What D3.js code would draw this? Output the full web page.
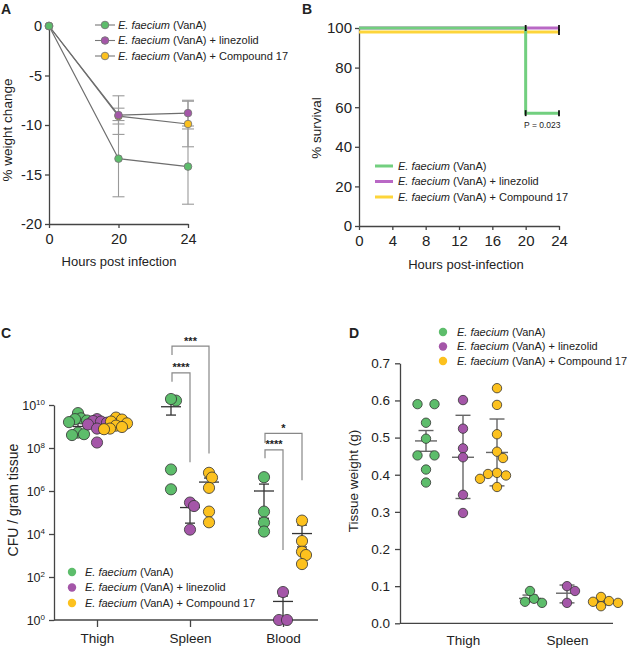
<!DOCTYPE html>
<html><head><meta charset="utf-8">
<script src="https://cdn.jsdelivr.net/npm/d3@7"></script>
<style>
body{margin:0;background:#fff}
text{font-family:Arial,"Liberation Sans",sans-serif;fill:#222}
</style>
</head><body>
<svg id="chart" width="627" height="648"></svg>
<script>
// ---------------- DATA ----------------
const groupSpecies = "E. faecium";
const groupLabels = [" (VanA)", " (VanA) + linezolid", " (VanA) + Compound 17"];

// Panel A: % weight change (mean, SD)
const hoursA = ["0", "20", "24"];
const weightGreen = [0, -13.4, -14.2];
const weightPurple = [0, -9.0, -8.8];
const weightYellow = [0, -9.1, -9.9];
const sdGreen = [0, 3.85, 3.8];
const sdPurple = [0, 1.95, 1.3];
const sdYellow = [0, 0.8, 2.3];
const yTicksA = [0, -5, -10, -15, -20];

// Panel B: survival
const survTimesGreen = [0, 20, 24];
const survGreen = [100, 57, 57];
const survTimesPurple = [0, 24];
const survPurple = [100, 100];
const survTimesYellow = [0, 24];
const survYellow = [98, 98];
const censorGreen = [[20, 57], [24, 57]];
const censorPurple = [[20, 100], [24, 100]];
const censorYellow = [[24, 98]];
const xTicksB = [0, 4, 8, 12, 16, 20, 24];
const yTicksB = [0, 20, 40, 60, 80, 100];
const pValueText = "P = 0.023";

// Panel C: CFU / gram tissue
const tissuesC = ["Thigh", "Spleen", "Blood"];
const cfuGreen = {
  Thigh: [4.2e9, 2.4e9, 2.2e9, 1.9e9, 1.6e9, 5.2e8, 4.4e8, 4.0e8],
  Spleen: [1.6e10, 1.9e10, 1.0e7, 1.2e6],
  Blood: [4.4e6, 1.1e5, 3.4e4, 1.3e4]
};
const cfuPurple = {
  Thigh: [2.2e9, 1.8e9, 1.7e9, 1.5e9, 1.25e9, 8e8, 1.8e8],
  Spleen: [2.9e5, 2.0e5, 1.6e4],
  Blood: [20, 1, 1]
};
const cfuYellow = {
  Thigh: [2.6e9, 2.1e9, 1.7e9, 1.4e9, 1.1e9, 9.5e8, 8e8, 7.5e8],
  Spleen: [7e6, 4.2e6, 1.4e6, 1.1e5, 3.5e4],
  Blood: [4.2e4, 4.7e3, 1.5e3, 1.05e3, 4e2]
};
// mean, low, high
const cfuStatsGreen = {Thigh: [1.5e9, 1.0e9, 2.1e9], Spleen: [8.3e9, 3.4e9, 1.4e10], Blood: [1.0e6, 5.4e4, 2.1e6]};
const cfuStatsPurple = {Thigh: [1.4e9, 9e8, 1.9e9], Spleen: [1.7e5, 3.2e4, 3.1e5], Blood: [7.3, 1, 13]};
const cfuStatsYellow = {Thigh: [1.5e9, 1.1e9, 1.9e9], Spleen: [2.6e6, 1.2e6, 4.0e6], Blood: [1.05e4, 2.5e3, 2.6e4]};
const yTicksC = [1, 1e2, 1e4, 1e6, 1e8, 1e10];
const bracketsC = [
  {tissue: "Spleen", from: 0, to: 2, top: 5.5e12, leftEnd: 2.1e12, rightEnd: 5.6e7, label: "***"},
  {tissue: "Spleen", from: 0, to: 1, top: 3.1e11, leftEnd: 1.2e11, rightEnd: 2.2e7, label: "****"},
  {tissue: "Blood", from: 0, to: 2, top: 4.8e8, leftEnd: 1.7e8, rightEnd: 3.2e6, label: "*"},
  {tissue: "Blood", from: 0, to: 1, top: 8.1e7, leftEnd: 3.3e7, rightEnd: 1.8e3, label: "****"}
];

// Panel D: tissue weight (g)
const tissuesD = ["Thigh", "Spleen"];
const weightDGreen = {Thigh: [0.59, 0.59, 0.54, 0.497, 0.452, 0.452, 0.414, 0.379], Spleen: [0.055, 0.066, 0.087, 0.058]};
const weightDPurple = {Thigh: [0.601, 0.524, 0.471, 0.447, 0.346, 0.297], Spleen: [0.1, 0.087, 0.055]};
const weightDYellow = {Thigh: [0.633, 0.588, 0.509, 0.462, 0.445, 0.405, 0.398, 0.402, 0.389, 0.367], Spleen: [0.071, 0.058, 0.06, 0.055, 0.046]};
const statsDGreen = {Thigh: [0.491, 0.463, 0.519], Spleen: [0.067, 0.058, 0.076]};
const statsDPurple = {Thigh: [0.447, 0.336, 0.56], Spleen: [0.081, 0.055, 0.103]};
const statsDYellow = {Thigh: [0.46, 0.37, 0.55], Spleen: [0.058, 0.05, 0.066]};
const yTicksD = [0, 0.1, 0.2, 0.3, 0.4, 0.5, 0.6, 0.7];

// ---------------- STYLE ----------------
const markerColors = ["#5dbd6b", "#a456a8", "#fcc11e"];
const lineColors = ["#72cf7f", "#b968c5", "#fdd53a"];
const axisColor = "#444";

const svg = d3.select("#chart");

function styleAxis(g, fontSize) {
  g.attr("font-family", 'Arial,"Liberation Sans",sans-serif');
  g.selectAll(".domain").attr("stroke", axisColor).attr("stroke-width", 1.3);
  g.selectAll(".tick line").attr("stroke", axisColor).attr("stroke-width", 1.3);
  g.selectAll(".tick text").attr("font-size", fontSize).attr("fill", "#222");
}
function legendText(sel, x, y, i) {
  const t = sel.append("text").attr("x", x).attr("y", y).attr("font-size", 11).attr("dy", "0.35em");
  t.append("tspan").attr("font-style", "italic").text(groupSpecies);
  t.append("tspan").text(groupLabels[i]);
}
function title(x, y, s) {
  svg.append("text").attr("x", x).attr("y", y).attr("font-size", 14).attr("font-weight", "bold").text(s);
}
function yTitle(x, y, s, size) {
  svg.append("text").attr("transform", `translate(${x},${y}) rotate(-90)`)
    .attr("text-anchor", "middle").attr("font-size", size).text(s);
}
// scatter layout: identical values sit side by side, others avoid overlap greedily
function swarm(values, yScale, cx, minDist, rowSpacing) {
  const idx = values.map((v, i) => i).sort((a, b) => values[b] - values[a]);
  const rows = [];
  idx.forEach(i => {
    const y = yScale(values[i]);
    const last = rows[rows.length - 1];
    if (last && Math.abs(last.y - y) < 0.6) last.items.push(i);
    else rows.push({y, items: [i]});
  });
  const placed = [];
  const xs = new Array(values.length);
  let flip = 1;
  rows.forEach(row => {
    const n = row.items.length;
    if (n > 1) {
      row.items.forEach((i, k) => {
        const dx = (k - (n - 1) / 2) * rowSpacing;
        placed.push({x: dx, y: row.y});
        xs[i] = cx + dx;
      });
      return;
    }
    const i = row.items[0];
    const y = row.y;
    let x = 0;
    for (let k = 0; k < 200; k++) {
      const cands = k === 0 ? [0] : [flip * k, -flip * k];
      let found = null;
      for (const dx of cands) {
        if (placed.every(p => Math.hypot(p.x - dx, p.y - y) >= minDist)) { found = dx; break; }
      }
      if (found !== null) { x = found; break; }
    }
    if (x !== 0) flip = -Math.sign(x);
    placed.push({x, y});
    xs[i] = cx + x;
  });
  return xs;
}

// ---------------- PANEL A ----------------
(function () {
  const x = d3.scalePoint().domain(hoursA).range([49, 188]);
  const y = d3.scaleLinear().domain([-20, 0]).range([224, 26]);
  title(1, 14, "A");
  const gx = svg.append("g").attr("transform", "translate(0,224)")
    .call(d3.axisBottom(x).tickSize(4).tickPadding(6).tickSizeOuter(0));
  styleAxis(gx, 14.5);
  const gy = svg.append("g").attr("transform", "translate(49,0)")
    .call(d3.axisLeft(y).tickValues(yTicksA).tickSize(4).tickPadding(3).tickSizeOuter(0).tickFormat(d => String(d)));
  styleAxis(gy, 14.5);
  svg.append("text").attr("x", 119).attr("y", 266).attr("text-anchor", "middle").attr("font-size", 13).text("Hours post infection");
  yTitle(12, 130, "% weight change", 13.5);

  const series = [
    {vals: weightYellow, sd: sdYellow, c: 2},
    {vals: weightPurple, sd: sdPurple, c: 1},
    {vals: weightGreen, sd: sdGreen, c: 0}
  ];
  const eb = svg.append("g").attr("stroke", "#9a9a9a").attr("stroke-width", 1.1);
  series.forEach(s => {
    s.vals.forEach((v, i) => {
      if (s.sd[i] === 0) return;
      const cx = x(hoursA[i]);
      eb.append("line").attr("x1", cx).attr("x2", cx).attr("y1", y(v - s.sd[i])).attr("y2", y(v + s.sd[i]));
      [v - s.sd[i], v + s.sd[i]].forEach(e => eb.append("line").attr("x1", cx - 6).attr("x2", cx + 6).attr("y1", y(e)).attr("y2", y(e)));
    });
  });
  const line = d3.line().x((d, i) => x(hoursA[i])).y(d => y(d));
  series.forEach(s => {
    svg.append("path").attr("d", line(s.vals)).attr("fill", "none").attr("stroke", "#6e6e6e").attr("stroke-width", 1.2);
  });
  series.forEach(s => {
    svg.append("g").selectAll("circle").data(s.vals).join("circle")
      .attr("cx", (d, i) => x(hoursA[i])).attr("cy", d => y(d)).attr("r", 3.8)
      .attr("fill", markerColors[s.c]).attr("stroke", "#777").attr("stroke-width", 0.9);
  });
  [0, 1, 2].forEach(i => {
    const ly = 25 + i * 15.5;
    svg.append("line").attr("x1", 95).attr("x2", 115).attr("y1", ly).attr("y2", ly).attr("stroke", "#777").attr("stroke-width", 1.1);
    svg.append("circle").attr("cx", 105).attr("cy", ly).attr("r", 3.8).attr("fill", markerColors[i]).attr("stroke", "#777").attr("stroke-width", 0.9);
    legendText(svg, 118, ly, i);
  });
})();

// ---------------- PANEL B ----------------
(function () {
  const x = d3.scaleLinear().domain([0, 24]).range([359, 559]);
  const y = d3.scaleLinear().domain([0, 100]).range([226, 28]);
  title(302, 14, "B");
  const gx = svg.append("g").attr("transform", "translate(0,226)")
    .call(d3.axisBottom(x).tickValues(xTicksB).tickSize(4).tickPadding(5).tickSizeOuter(0));
  styleAxis(gx, 15);
  const gy = svg.append("g").attr("transform", "translate(359,0)")
    .call(d3.axisLeft(y).tickValues(yTicksB).tickSize(4).tickPadding(3).tickSizeOuter(0));
  styleAxis(gy, 15);
  svg.append("text").attr("x", 466).attr("y", 269).attr("text-anchor", "middle").attr("font-size", 13).text("Hours post-infection");
  yTitle(321, 128, "% survival", 13.5);

  const step = d3.line().x(d => x(d[0])).y(d => y(d[1])).curve(d3.curveStepAfter);
  const curves = [
    {t: survTimesYellow, s: survYellow, c: 2, cens: censorYellow},
    {t: survTimesPurple, s: survPurple, c: 1, cens: censorPurple},
    {t: survTimesGreen, s: survGreen, c: 0, cens: censorGreen}
  ];
  curves.forEach(cv => {
    svg.append("path").attr("d", step(cv.t.map((t, i) => [t, cv.s[i]])))
      .attr("fill", "none").attr("stroke", lineColors[cv.c]).attr("stroke-width", 3);
  });
  curves.forEach(cv => {
    cv.cens.forEach(p => {
      svg.append("line").attr("x1", x(p[0])).attr("x2", x(p[0])).attr("y1", y(p[1]) - 3).attr("y2", y(p[1]) + 3)
        .attr("stroke", "#111").attr("stroke-width", 1.8);
    });
  });
  svg.append("text").attr("x", x(22)).attr("y", y(57) + 15).attr("text-anchor", "middle").attr("font-size", 8.5).text(pValueText);
  [0, 1, 2].forEach(i => {
    const ly = 166 + i * 15.5;
    svg.append("line").attr("x1", 375).attr("x2", 393).attr("y1", ly).attr("y2", ly).attr("stroke", lineColors[i]).attr("stroke-width", 3);
    legendText(svg, 398, ly, i);
  });
})();

// ---------------- PANEL C ----------------
(function () {
  const x = d3.scalePoint().domain(tissuesC).range([97, 283]);
  const y = d3.scaleLog().domain([1, 1e10]).range([620, 405]);
  const offs = [-19, 0, 19];
  title(1, 338, "C");
  const gx = svg.append("g").attr("transform", "translate(0,620)")
    .call(d3.axisBottom(x).tickSize(7).tickPadding(6).tickSizeOuter(0));
  styleAxis(gx, 13.5);
  gx.select(".domain").attr("d", "M54,0H318");
  const gy = svg.append("g").attr("transform", "translate(54,0)")
    .call(d3.axisLeft(y).tickValues(yTicksC).tickSize(5).tickPadding(4).tickSizeOuter(0).tickFormat(""));
  styleAxis(gy, 12.5);
  gy.selectAll(".tick text").each(function (d) {
    const t = d3.select(this);
    t.text("10");
    t.append("tspan").attr("dy", "-0.55em").attr("font-size", 8).text(Math.round(Math.log10(d)));
  });
  yTitle(18, 500, "CFU / gram tissue", 14);

  const dataSets = [cfuGreen, cfuPurple, cfuYellow];
  const statSets = [cfuStatsGreen, cfuStatsPurple, cfuStatsYellow];
  const eb = svg.append("g").attr("stroke", "#333").attr("stroke-width", 1.3);
  statSets.forEach((st, gi) => {
    tissuesC.forEach(tis => {
      const cx = x(tis) + offs[gi];
      const [m, lo, hi] = st[tis];
      const half = tis === "Thigh" ? 6 : 10;
      eb.append("line").attr("x1", cx).attr("x2", cx).attr("y1", y(lo)).attr("y2", y(hi));
      eb.append("line").attr("x1", cx - half).attr("x2", cx + half).attr("y1", y(m)).attr("y2", y(m));
      [lo, hi].forEach(e => eb.append("line").attr("x1", cx - 5).attr("x2", cx + 5).attr("y1", y(e)).attr("y2", y(e)));
    });
  });
  dataSets.forEach((ds, gi) => {
    tissuesC.forEach(tis => {
      const vals = ds[tis];
      const xs = swarm(vals, y, x(tis) + offs[gi], tis === "Thigh" ? 6 : 5.2, 8);
      svg.append("g").selectAll("circle").data(vals).join("circle")
        .attr("cx", (d, i) => xs[i]).attr("cy", d => y(d)).attr("r", 5.6)
        .attr("fill", markerColors[gi]).attr("stroke", "#333").attr("stroke-width", 0.8);
    });
  });
  bracketsC.forEach(b => {
    const x1 = x(b.tissue) + offs[b.from] + 1;
    const x2 = x(b.tissue) + offs[b.to];
    const path = d3.path();
    path.moveTo(x1, y(b.leftEnd)); path.lineTo(x1, y(b.top)); path.lineTo(x2, y(b.top)); path.lineTo(x2, y(b.rightEnd));
    svg.append("path").attr("d", path.toString()).attr("fill", "none").attr("stroke", "#888").attr("stroke-width", 1.2);
    svg.append("text").attr("x", (x1 + x2) / 2).attr("y", y(b.top) - 1.5).attr("text-anchor", "middle")
      .attr("font-size", 11).attr("font-weight", "bold").text(b.label);
  });
  [0, 1, 2].forEach(i => {
    const ly = 572 + i * 15.5;
    svg.append("circle").attr("cx", 72).attr("cy", ly).attr("r", 4.2).attr("fill", markerColors[i]);
    legendText(svg, 85, ly, i);
  });
})();

// ---------------- PANEL D ----------------
(function () {
  const x = d3.scalePoint().domain(tissuesD).range([463, 567]);
  const y = d3.scaleLinear().domain([0, 0.7]).range([623.3, 363.3]);
  const offs = [-37, 0, 34];
  title(349, 338, "D");
  const gx = svg.append("g").attr("transform", "translate(0,623.3)")
    .call(d3.axisBottom(x).tickSize(0).tickPadding(12).tickSizeOuter(0));
  styleAxis(gx, 13.5);
  gx.select(".domain").attr("d", "M400,0H613");
  const gy = svg.append("g").attr("transform", "translate(400,0)")
    .call(d3.axisLeft(y).tickValues(yTicksD).tickSize(5).tickPadding(5).tickSizeOuter(0).tickFormat(d3.format(".1f")));
  styleAxis(gy, 13.5);
  yTitle(358, 481, "Tissue weight (g)", 13.5);

  const dataSets = [weightDGreen, weightDPurple, weightDYellow];
  const statSets = [statsDGreen, statsDPurple, statsDYellow];
  const eb = svg.append("g").attr("stroke", "#666").attr("stroke-width", 1.4);
  statSets.forEach((st, gi) => {
    tissuesD.forEach(tis => {
      const cx = x(tis) + offs[gi];
      const [m, lo, hi] = st[tis];
      eb.append("line").attr("x1", cx).attr("x2", cx).attr("y1", y(lo)).attr("y2", y(hi));
      eb.append("line").attr("x1", cx - 11).attr("x2", cx + 11).attr("y1", y(m)).attr("y2", y(m));
      [lo, hi].forEach(e => eb.append("line").attr("x1", cx - 7.5).attr("x2", cx + 7.5).attr("y1", y(e)).attr("y2", y(e)));
    });
  });
  dataSets.forEach((ds, gi) => {
    tissuesD.forEach(tis => {
      const vals = ds[tis];
      const xs = swarm(vals, y, x(tis) + offs[gi], 8.6, 17);
      svg.append("g").selectAll("circle").data(vals).join("circle")
        .attr("cx", (d, i) => xs[i]).attr("cy", d => y(d)).attr("r", 4.7)
        .attr("fill", markerColors[gi]).attr("stroke", "#333").attr("stroke-width", 0.8);
    });
  });
  [0, 1, 2].forEach(i => {
    const ly = 332 + i * 14.5;
    svg.append("circle").attr("cx", 443).attr("cy", ly).attr("r", 4.2).attr("fill", markerColors[i]);
    legendText(svg, 457, ly, i);
  });
})();
</script>
</body></html>
